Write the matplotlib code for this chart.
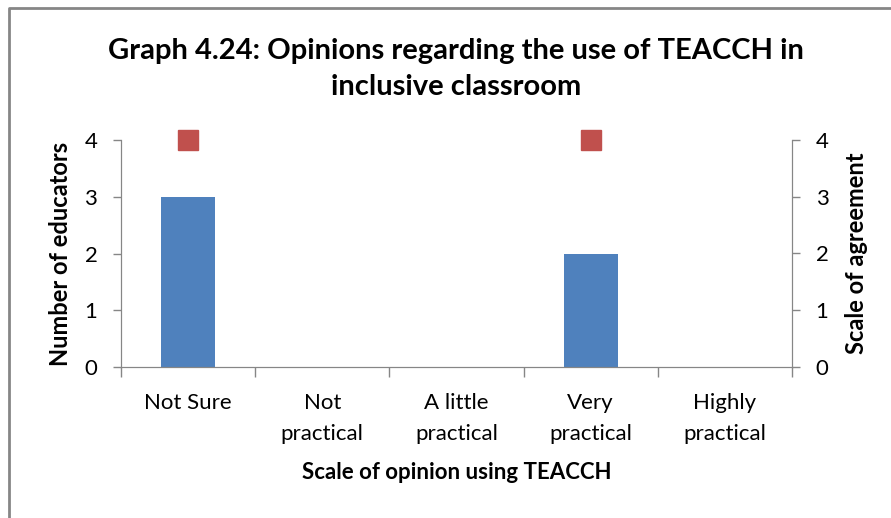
import matplotlib
matplotlib.use('Agg')
import matplotlib.pyplot as plt
import numpy as np

categories = ['Not Sure', 'Not\npractical', 'A little\npractical', 'Very\npractical', 'Highly\npractical']
educators = [3, 0, 0, 2, 0]
agreement = [4, None, None, 4, None]

plt.rcParams['font.family'] = ['Lato', 'DejaVu Sans']

fig = plt.figure(figsize=(8.91, 5.18), dpi=100)
ax = fig.add_axes([121/891, 1-367/518, (792-121)/891, (367-140)/518])
ax2 = ax.twinx()

x = np.arange(len(categories))
ax.bar(x, educators, width=0.4, color='#4F81BD', zorder=2)
ax.set_xlim(-0.5, len(categories) - 0.5)
ax.set_ylim(0, 4)
ax.set_yticks([0, 1, 2, 3, 4])

ax2.set_ylim(0, 4)
ax2.set_yticks([0, 1, 2, 3, 4])
mx = [i for i, v in enumerate(agreement) if v is not None]
my = [v for v in agreement if v is not None]
ax2.plot(mx, my, linestyle='none', marker='s', markersize=14.4,
         color='#C0504D', markeredgecolor='#C0504D', clip_on=False, zorder=3)

grey = '#868686'
for a in (ax, ax2):
    a.spines['top'].set_visible(False)
    a.spines['left'].set_color(grey)
    a.spines['right'].set_color(grey)
    a.spines['bottom'].set_color(grey)
    a.tick_params(axis='y', colors=grey, labelcolor='black', labelsize=16, length=6, width=1, pad=11)

ax.set_xticks(np.arange(-0.5, len(categories), 1))
ax.set_xticklabels([])
ax.set_xticks(x, minor=True)
ax.set_xticklabels(categories, minor=True, fontsize=16, linespacing=1.65)
ax.tick_params(axis='x', which='major', colors=grey, length=7, width=1)
ax.tick_params(axis='x', which='minor', length=0, pad=19)

ax.set_ylabel('Number of educators', fontsize=17, fontweight='bold', labelpad=9)
ax2.set_ylabel('Scale of agreement', fontsize=17, fontweight='bold', labelpad=12)
ax.set_xlabel('Scale of opinion using TEACCH', fontsize=16, fontweight='bold', labelpad=13)

fig.text(456/891, 1-69/518, 'Graph 4.24: Opinions regarding the use of TEACCH in\ninclusive classroom',
         ha='center', va='center', fontsize=21, fontweight='bold', linespacing=1.5)

# chart frame (left and top edges)
fig.add_artist(plt.Line2D([9/891, 9/891, 1], [0, 1-8/518, 1-8/518],
                          color=grey, lw=2, transform=fig.transFigure))

fig.savefig('out.png', dpi=100)
